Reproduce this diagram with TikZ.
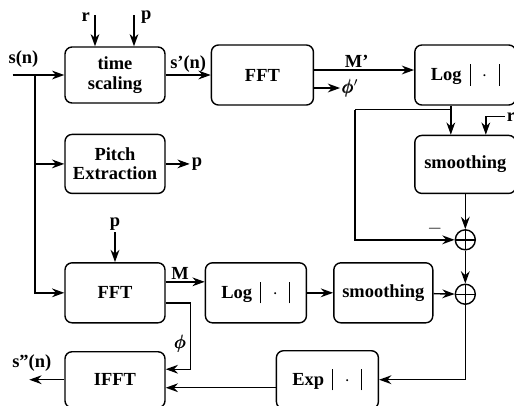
\documentclass[tikz,border=0pt]{standalone}
\usepackage{fontspec}
\setmainfont{Liberation Serif}
\usepackage{amsmath}
\usepackage{bm}
\usetikzlibrary{arrows.meta, positioning}
\tikzset{
  block/.style={rectangle, rounded corners=4pt, draw, line width=0.8pt,
    minimum width=2cm, minimum height=1.16cm, align=center, inner sep=1pt,
    font=\fontsize{10.5}{11}\selectfont\bfseries},
  sumnode/.style={circle, draw, line width=0.8pt, minimum size=0.4cm, inner sep=0pt,
    path picture={\draw[line width=0.8pt]
      (path picture bounding box.north) -- (path picture bounding box.south)
      (path picture bounding box.west) -- (path picture bounding box.east);}},
  lbl/.style={font=\fontsize{10.5}{11}\selectfont\bfseries, inner sep=1pt},
  arrow/.style={-{Stealth[length=7pt, width=5pt]}, line width=0.8pt},
  wire/.style={line width=0.8pt},
}
\newcommand{\vbar}{\rule[-3pt]{0.6pt}{12pt}}
\newcommand{\absval}[1]{#1\hspace{4.5pt}\vbar\hspace{6.5pt}$\cdot$\hspace{6.5pt}\vbar}
\begin{document}
\begin{tikzpicture}
  \useasboundingbox (0,0) rectangle (10.28,-8.1);
  % upper path: time scaling, FFT, Log, smoothing
  \node[block, minimum height=1.12cm] (ts) at (2.3,-1.5) {time\\scaling};
  \node[block, right=0.9cm of ts, minimum width=2.04cm, minimum height=1.2cm] (fft1) {FFT};
  \node[block, right=2cm of fft1, minimum width=2.02cm, minimum height=1.2cm] (log1) {\absval{Log}};
  \node[block, below=0.58cm of log1, minimum width=2.02cm] (sm1) {smoothing};
  \node[sumnode, below=0.7cm of sm1] (sum1) {};
  \node[sumnode, below=0.66cm of sum1] (sum2) {};
  % pitch and lower path
  \node[block, below=0.6cm of ts, minimum height=1.18cm] (pe) {Pitch\\Extraction};
  \node[block, below=1.36cm of pe, minimum height=1.2cm] (fft2) {FFT};
  \node[block, right=0.78cm of fft2, minimum width=2.02cm, minimum height=1.2cm] (log2) {\absval{Log}};
  \node[block, right=0.52cm of log2, minimum width=1.98cm, minimum height=1.2cm] (sm2) {smoothing};
  \node[block, below=0.55cm of fft2, minimum height=1.12cm] (ifft) {IFFT};
  \node[block, right=2.2cm of ifft, minimum width=2.04cm] (exp) {\absval{Exp}};

  % input and branch
  \coordinate (in) at (0.25,-1.5);
  \coordinate (br) at (0.7,-1.5);
  \node[lbl, above right=0.1cm and -0.12cm of in] (sn) {s(n)};
  \draw[arrow] (in) -- (ts);
  \draw[arrow] (br) |- (pe.west);
  \draw[arrow] (br) |- (fft2.west);

  % control inputs of time scaling
  \coordinate (rtop) at ([xshift=-0.4cm, yshift=0.62cm]ts.north);
  \coordinate (ptop) at ([xshift=0.38cm, yshift=0.62cm]ts.north);
  \node[lbl, left=0.06cm of rtop, yshift=-0.04cm] (rlbl) {r};
  \node[lbl, right=0.1cm of ptop, yshift=-0.04cm] (plbl) {p};
  \draw[arrow] (rtop) -- (rtop |- ts.north);
  \draw[arrow] (ptop) -- (ptop |- ts.north);

  \draw[arrow] (ts) -- (fft1) node[midway, above, lbl] {s'(n)};
  \draw[arrow] ([yshift=0.1cm]fft1.east) -- ([yshift=0.1cm]fft1.east -| log1.west)
    node[midway, above, lbl, xshift=-0.15cm] {M'};
  \node[lbl, right=0.52cm of fft1.east, yshift=-0.26cm] (phi1) {$\pmb{\phi}'$};
  \draw[arrow] (fft1.east |- phi1) -- (phi1);

  % Log -> smoothing and tap to the first sum
  \draw[arrow] ([xshift=-0.29cm]log1.south) -- ([xshift=-0.29cm]log1.south |- sm1.north);
  \coordinate (tap) at ([xshift=-0.29cm, yshift=-0.08cm]log1.south);
  \coordinate (tapl) at ([xshift=-1.92cm]tap);
  \draw[wire] (tap) -- (tapl);
  \draw[arrow] (tapl) |- (sum1.west);
  \node[lbl, above left=0.08cm and 0.24cm of sum1.west, inner sep=0pt] (minus) {$-$};
  \coordinate (rc) at ([xshift=0.41cm, yshift=0.36cm]sm1.north);
  \node[lbl, right=0.38cm of rc] (r2) {r};
  \draw[arrow] (r2.west) -| ([xshift=0.41cm]sm1.north);
  \draw[arrow] (sm1) -- (sum1);
  \draw[arrow] (sum1) -- (sum2);

  % pitch output
  \node[lbl, right=0.48cm of pe] (pout) {p};
  \draw[arrow] (pe) -- (pout);

  % lower path
  \node[lbl, above=0.6cm of fft2] (pin) {p};
  \draw[arrow] (pin) -- (fft2);
  \draw[arrow] ([yshift=0.22cm]fft2.east) -- ([yshift=0.22cm]fft2.east -| log2.west)
    node[midway, above, lbl, xshift=-0.1cm] {M};
  \draw[arrow] (log2) -- (sm2);
  \draw[arrow] (sm2) -- (sum2);
  \draw[arrow] (sum2) |- (exp.east);
  \draw[arrow] ([yshift=-0.16cm]exp.west) -- ([yshift=-0.16cm]exp.west -| ifft.east);
  \coordinate (phc) at ([xshift=0.5cm, yshift=-0.2cm]fft2.east);
  \draw[arrow] ([yshift=-0.2cm]fft2.east) -- (phc) |- ([yshift=0.21cm]ifft.east);
  \node[lbl, below left=0.6cm and 0.05cm of phc] (phi2) {$\pmb{\phi}$};

  % output
  \coordinate (sout) at ([xshift=-0.7cm]ifft.west);
  \draw[arrow] (ifft) -- (sout);
  \node[lbl, above=0.12cm of sout, xshift=0.05cm] (snn) {s''(n)};
\end{tikzpicture}
\end{document}
